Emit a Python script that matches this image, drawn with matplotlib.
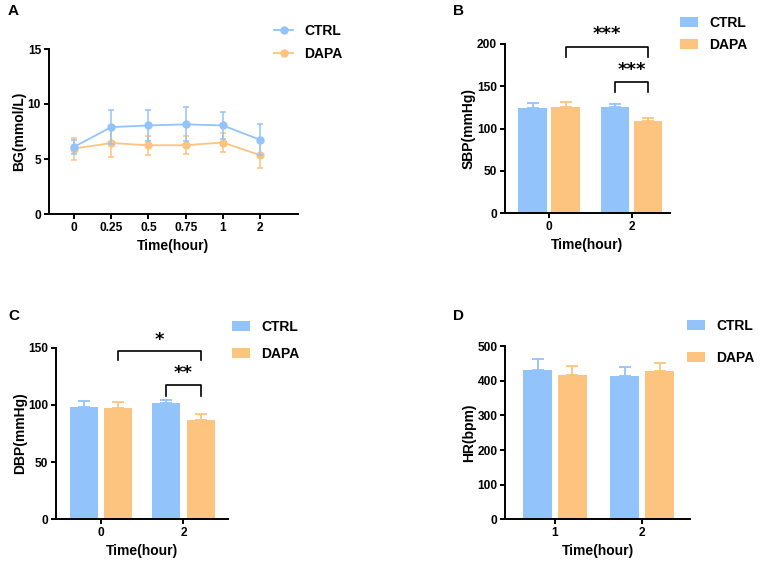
import matplotlib
matplotlib.use('Agg')
import matplotlib.pyplot as plt
from matplotlib.lines import Line2D
import numpy as np

plt.rcParams['font.family'] = ['Liberation Sans', 'DejaVu Sans']
plt.rcParams['font.weight'] = 'bold'

CTRL_C = '#93c3fb'
DAPA_C = '#fdc47f'

# Panel A: blood glucose
bg_times = ['0', '0.25', '0.5', '0.75', '1', '2']
bg_ctrl = [6.1, 7.9, 8.05, 8.15, 8.05, 6.75]
bg_ctrl_err = [0.6, 1.55, 1.4, 1.55, 1.25, 1.4]
bg_dapa = [5.95, 6.45, 6.25, 6.25, 6.5, 5.35]
bg_dapa_err = [1.0, 1.25, 0.85, 0.8, 0.85, 1.2]

# Panel B: SBP
sbp_times = ['0', '2']
sbp_ctrl = [124.2, 125.3]
sbp_ctrl_err = [5.5, 3.6]
sbp_dapa = [125.7, 108.8]
sbp_dapa_err = [5.5, 3.6]

# Panel C: DBP
dbp_times = ['0', '2']
dbp_ctrl = [98.2, 101.4]
dbp_ctrl_err = [5.5, 3.2]
dbp_dapa = [97.0, 86.8]
dbp_dapa_err = [5.2, 5.2]

# Panel D: HR
hr_times = ['1', '2']
hr_ctrl = [431.6, 415.2]
hr_ctrl_err = [32.8, 26.0]
hr_dapa = [417.1, 429.7]
hr_dapa_err = [27.0, 22.1]

W, H = 761, 568
fig = plt.figure(figsize=(W / 100, H / 100), dpi=100)


def frac(x0, y0, x1, y1):
    return [x0 / W, 1 - y1 / H, (x1 - x0) / W, (y1 - y0) / H]


def style_axes(ax):
    for s in ['top', 'right']:
        ax.spines[s].set_visible(False)
    for s in ['left', 'bottom']:
        ax.spines[s].set_linewidth(1.4)
    ax.tick_params(width=1.4, length=3.5, labelsize=8.6, pad=2)
    for lab in ax.get_xticklabels() + ax.get_yticklabels():
        lab.set_fontweight('bold')


def bar_panel(ax, times, ctrl, ctrl_err, dapa, dapa_err, ymax, yticks, ylabel, xlim, bw, off):
    x = np.arange(len(times))
    ax.bar(x - off, ctrl, bw, color=CTRL_C, label='CTRL', zorder=2)
    ax.bar(x + off, dapa, bw, color=DAPA_C, label='DAPA', zorder=2)
    ax.errorbar(x - off, ctrl, yerr=[np.zeros(len(x)), ctrl_err], fmt='none',
                ecolor=CTRL_C, elinewidth=1.3, capsize=4.5, capthick=1.3, zorder=1)
    ax.errorbar(x + off, dapa, yerr=[np.zeros(len(x)), dapa_err], fmt='none',
                ecolor=DAPA_C, elinewidth=1.3, capsize=4.5, capthick=1.3, zorder=1)
    ax.set_xticks(x)
    ax.set_xticklabels(times)
    ax.set_xlim(*xlim)
    ax.set_ylim(0, ymax)
    ax.set_yticks(yticks)
    ax.set_ylabel(ylabel, fontsize=10, fontweight='bold', labelpad=1)
    ax.set_xlabel('Time(hour)', fontsize=10, fontweight='bold', labelpad=4)
    style_axes(ax)


def bracket(ax, x0, x1, y, drop, text):
    ax.plot([x0, x0, x1, x1], [y - drop, y, y, y - drop], color='black', lw=1.2,
            clip_on=False)
    ax.text((x0 + x1) / 2, y + drop * 0.3, text, ha='center', va='bottom',
            fontsize=13, fontweight='bold', family='DejaVu Sans')


def legend(ax, x, y, spacing, handles=None, hl=1.3):
    kw = {}
    if handles is not None:
        kw['handles'] = handles
    leg = ax.legend(loc='upper left', bbox_to_anchor=(x / W, 1 - y / H),
                    bbox_transform=fig.transFigure, frameon=False, fontsize=10,
                    borderpad=0, borderaxespad=0, handlelength=hl,
                    handleheight=0.7, handletextpad=0.8, labelspacing=spacing, **kw)
    for t in leg.get_texts():
        t.set_fontweight('bold')
    return leg


# ---- A ----
axA = fig.add_axes(frac(48.7, 49, 298, 214))
xa = np.arange(len(bg_times))
axA.errorbar(xa, bg_ctrl, yerr=bg_ctrl_err, color=CTRL_C, marker='o', ms=5,
             lw=1.3, elinewidth=1.1, capsize=2.5, capthick=1.1, zorder=3)
axA.errorbar(xa, bg_dapa, yerr=bg_dapa_err, color=DAPA_C, marker='o', ms=5,
             lw=1.3, elinewidth=1.1, capsize=2.5, capthick=1.1, zorder=2)
axA.set_xticks(xa)
axA.set_xticklabels(bg_times)
axA.set_xlim(-0.68, 6.02)
axA.set_ylim(0, 15)
axA.set_yticks([0, 5, 10, 15])
axA.set_ylabel('BG(mmol/L)', fontsize=10, fontweight='bold', labelpad=1)
axA.set_xlabel('Time(hour)', fontsize=10, fontweight='bold', labelpad=4)
style_axes(axA)
hA = [Line2D([], [], color=CTRL_C, marker='o', ms=5, lw=1.3, label='CTRL'),
      Line2D([], [], color=DAPA_C, marker='o', ms=5, lw=1.3, label='DAPA')]
legend(axA, 274, 24, 0.65, handles=hA, hl=1.4)

# ---- B ----
axB = fig.add_axes(frac(504.7, 43.7, 670, 213.3))
bar_panel(axB, sbp_times, sbp_ctrl, sbp_ctrl_err, sbp_dapa, sbp_dapa_err,
          200, [0, 50, 100, 150, 200], 'SBP(mmHg)', (-0.54, 1.465), 0.346, 0.2)
bracket(axB, 0.2, 1.2, 196.5, 12.5, '***')
bracket(axB, 0.8, 1.2, 154.4, 11.8, '***')
legend(axB, 680, 16, 0.55)

# ---- C ----
axC = fig.add_axes(frac(56, 347.7, 228, 519.3))
bar_panel(axC, dbp_times, dbp_ctrl, dbp_ctrl_err, dbp_dapa, dbp_dapa_err,
          150, [0, 50, 100, 150], 'DBP(mmHg)', (-0.545, 1.54), 0.34, 0.21)
bracket(axC, 0.21, 1.21, 146.8, 7.9, '*')
bracket(axC, 0.79, 1.21, 117.1, 9.1, '**')
legend(axC, 232, 320, 0.9)

# ---- D ----
axD = fig.add_axes(frac(505.3, 346.3, 690, 519.3))
bar_panel(axD, hr_times, hr_ctrl, hr_ctrl_err, hr_dapa, hr_dapa_err,
          500, [0, 100, 200, 300, 400, 500], 'HR(bpm)', (-0.57, 1.55), 0.335, 0.2)
legend(axD, 687, 319, 1.3)

# panel letters
for lab, (px, py) in zip('ABCD', [(8, 11), (453, 11), (8, 316), (453, 316)]):
    fig.text(px / W, 1 - py / H, lab, fontsize=11, fontweight='bold', va='center')

fig.savefig('out.png', dpi=100)
